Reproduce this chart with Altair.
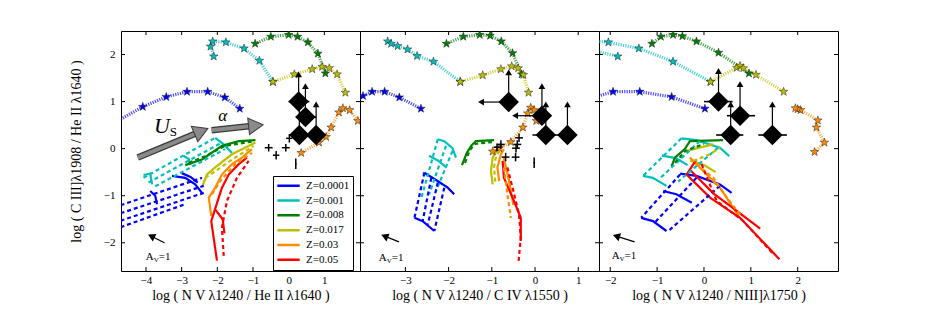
import altair as alt
import pandas as pd

FONT = "Liberation Serif"
Z_LABELS = ["Z=0.0001", "Z=0.001", "Z=0.008", "Z=0.017", "Z=0.03", "Z=0.05"]
Z_COLORS = ["#0000ff", "#00bfbf", "#008000", "#bfbf00", "#ff8c00", "#ff0000"]
Y_TICKS = [-2, -1, 0, 1, 2]
Y_DOMAIN = [-2.6, 2.5]
Y_TITLE = "log ( C III]λ1908 / He II λ1640 )"

P1_X_DOMAIN = [-4.7, 2.0]
P1_X_TICKS = [-4, -3, -2, -1, 0, 1]
P1_X_TITLE = "log ( N V λ1240 / He II λ1640 )"
P2_X_DOMAIN = [-4.05, 1.48]
P2_X_TICKS = [-3, -2, -1, 0, 1]
P2_X_TITLE = "log ( N V λ1240 / C IV λ1550 )"
P3_X_DOMAIN = [-2.24, 2.86]
P3_X_TICKS = [-2, -1, 0, 1, 2]
P3_X_TITLE = "log ( N V λ1240 / NIII]λ1750 )"

# ---- dotted star tracks: (Z, x values, y values)
P1_TRACKS = [
    ("Z=0.0001", [-5.0, -4.09, -3.43, -2.85, -2.27, -1.79, -1.37], [0.50, 0.89, 1.10, 1.21, 1.21, 1.09, 0.85]),
    ("Z=0.001", [-2.10, -2.19, -2.13, -1.76, -1.25, -0.82, -0.44], [1.96, 2.17, 2.28, 2.26, 2.13, 1.87, 1.42]),
    ("Z=0.008", [-0.94, -0.50, 0.0, 0.25, 0.54, 0.82, 1.03], [2.23, 2.38, 2.42, 2.38, 2.26, 2.02, 1.60]),
    ("Z=0.017", [-0.44, 0.16, 0.66, 0.94, 1.14, 1.36, 1.59], [1.42, 1.58, 1.69, 1.74, 1.71, 1.58, 1.19]),
    ("Z=0.03", [0.35, 0.85, 1.05, 1.19, 1.41, 1.52, 1.71, 1.94], [-0.09, 0.13, 0.25, 0.45, 0.77, 0.86, 0.82, 0.59]),
]
P2_TRACKS = [
    ("Z=0.0001", [-4.3, -3.98, -3.77, -3.48, -3.14, -2.64], [0.95, 1.12, 1.21, 1.21, 1.09, 0.85]),
    ("Z=0.001", [-3.41, -3.33, -3.18, -2.95, -2.73, -2.35, -1.73], [2.28, 2.23, 2.18, 2.11, 1.97, 1.85, 1.42]),
    ("Z=0.008", [-2.05, -1.66, -1.28, -1.04, -0.78, -0.52, -0.31], [2.23, 2.38, 2.42, 2.40, 2.28, 2.03, 1.58]),
    ("Z=0.017", [-1.73, -1.21, -0.79, -0.54, -0.39, -0.27, -0.15], [1.42, 1.56, 1.69, 1.75, 1.71, 1.57, 1.19]),
    ("Z=0.03", [-0.98, -0.83, -0.56, -0.28, -0.17, -0.10, -0.02, 0.03], [-0.06, 0.01, 0.14, 0.45, 0.75, 0.87, 0.82, 0.59]),
]
P3_TRACKS = [
    ("Z=0.0001", [-2.5, -1.94, -1.37, -0.69, 0.02], [1.05, 1.21, 1.21, 1.10, 0.85]),
    ("Z=0.001", [-1.84, -2.5, -2.5, -2.04, -1.39, -0.66, 0.14], [1.96, 2.12, 2.30, 2.26, 2.13, 1.85, 1.42]),
    ("Z=0.008", [-1.11, -0.92, -0.66, -0.46, -0.16, 0.31, 0.96], [2.23, 2.38, 2.42, 2.39, 2.28, 2.04, 1.60]),
    ("Z=0.017", [0.14, 0.70, 0.77, 0.84, 1.11, 1.70], [1.42, 1.72, 1.76, 1.71, 1.57, 1.21]),
    ("Z=0.03", [2.36, 2.57, 2.40, 2.43, 2.06, 2.00, 1.95], [-0.07, 0.13, 0.45, 0.60, 0.82, 0.84, 0.86]),
]

# ---- model grids: (Z, polyline points)
P1_SOLID = [
    ("Z=0.0001", [(-3.27, -0.58), (-2.90, -0.62), (-2.62, -0.76), (-2.43, -0.94)]),
    ("Z=0.0001", [(-3.00, -0.52), (-2.75, -0.60), (-2.55, -0.72)]),
    ("Z=0.0001", [(-3.88, -0.90), (-3.74, -1.00), (-3.69, -1.18)]),
    ("Z=0.001", [(-4.07, -0.56), (-3.88, -0.53), (-3.83, -0.76)]),
    ("Z=0.001", [(-2.06, 0.23), (-1.82, 0.09), (-1.59, -0.09)]),
    ("Z=0.001", [(-2.95, -0.15), (-2.80, -0.22), (-2.75, -0.35)]),
    ("Z=0.008", [(-2.90, -0.35), (-2.43, -0.23), (-1.87, 0.06), (-1.40, 0.16), (-0.93, 0.18)]),
    ("Z=0.017", [(-2.43, -0.82), (-2.29, -0.55), (-2.06, -0.40), (-1.59, -0.12), (-0.93, 0.13)]),
    ("Z=0.03", [(-2.17, -1.43), (-2.24, -1.04), (-2.06, -0.83), (-1.87, -0.55), (-1.59, -0.33), (-1.31, -0.19), (-1.03, -0.01)]),
    ("Z=0.05", [(-2.01, -2.38), (-2.17, -1.54), (-1.96, -1.04), (-1.87, -0.83), (-1.68, -0.55), (-1.40, -0.33), (-1.17, -0.19)]),
    ("Z=0.05", [(-2.05, -1.30), (-1.85, -1.50), (-1.80, -1.80)]),
]
P1_DASHED = [
    ("Z=0.0001", [(-4.9, -1.25), (-2.43, -0.62)]),
    ("Z=0.0001", [(-4.9, -1.42), (-2.38, -0.79)]),
    ("Z=0.0001", [(-4.9, -1.58), (-2.38, -0.94)]),
    ("Z=0.0001", [(-4.9, -1.72), (-2.90, -1.18)]),
    ("Z=0.001", [(-4.07, -0.62), (-2.06, 0.23)]),
    ("Z=0.001", [(-3.93, -0.72), (-1.92, 0.11)]),
    ("Z=0.001", [(-3.74, -0.80), (-1.78, -0.01)]),
    ("Z=0.008", [(-2.80, -0.30), (-2.34, -0.16), (-1.78, 0.06), (-1.03, 0.15)]),
    ("Z=0.017", [(-2.34, -0.62), (-2.06, -0.48), (-1.50, -0.19), (-0.98, 0.06)]),
    ("Z=0.03", [(-2.15, -0.97), (-1.92, -0.69), (-1.50, -0.33), (-1.03, -0.09)]),
    ("Z=0.05", [(-1.82, -2.28), (-1.87, -1.68), (-1.73, -1.11), (-1.45, -0.62), (-1.12, -0.26)]),
]
P2_SOLID = [
    ("Z=0.001", [(-2.25, 0.20), (-2.10, 0.16), (-1.91, 0.01), (-1.83, -0.19)]),
    ("Z=0.001", [(-2.60, -0.51), (-2.37, -0.62), (-2.14, -0.76)]),
    ("Z=0.001", [(-2.45, -0.15), (-2.25, -0.25), (-2.05, -0.40)]),
    ("Z=0.0001", [(-2.56, -0.51), (-2.25, -0.69), (-2.02, -0.83), (-1.87, -0.97)]),
    ("Z=0.0001", [(-2.79, -1.47), (-2.60, -1.54), (-2.33, -1.75)]),
    ("Z=0.008", [(-1.69, -0.35), (-1.58, -0.09), (-1.48, 0.06), (-1.37, 0.16), (-0.95, 0.18)]),
    ("Z=0.017", [(-0.98, -0.76), (-1.02, -0.48), (-0.98, -0.19), (-0.87, -0.01), (-0.75, 0.06)]),
    ("Z=0.03", [(-0.83, -0.69), (-0.87, -0.40), (-0.79, -0.12), (-0.72, -0.01)]),
    ("Z=0.03", [(-0.72, -0.20), (-0.60, -0.70), (-0.50, -1.20)]),
    ("Z=0.05", [(-0.75, -0.26), (-0.72, -0.62), (-0.52, -1.04), (-0.33, -1.47), (-0.33, -1.96)]),
]
P2_DASHED = [
    ("Z=0.001", [(-2.25, 0.20), (-2.64, -1.08)]),
    ("Z=0.001", [(-2.06, 0.06), (-2.45, -0.97)]),
    ("Z=0.001", [(-1.91, -0.05), (-2.29, -0.90)]),
    ("Z=0.0001", [(-2.56, -0.51), (-2.79, -1.47)]),
    ("Z=0.0001", [(-2.40, -0.62), (-2.60, -1.54)]),
    ("Z=0.0001", [(-2.25, -0.72), (-2.48, -1.61)]),
    ("Z=0.0001", [(-2.10, -0.83), (-2.33, -1.75)]),
    ("Z=0.008", [(-1.62, -0.30), (-1.52, -0.05), (-1.40, 0.10), (-1.00, 0.14)]),
    ("Z=0.017", [(-0.92, -0.70), (-0.95, -0.40), (-0.90, -0.15), (-0.78, 0.00)]),
    ("Z=0.03", [(-0.72, -0.40), (-0.64, -0.97), (-0.56, -1.47)]),
    ("Z=0.05", [(-0.64, -0.40), (-0.52, -0.83), (-0.37, -1.40), (-0.33, -1.89), (-0.38, -2.39)]),
]
P3_SOLID = [
    ("Z=0.001", [(-0.48, 0.22), (-0.16, 0.18), (0.34, 0.02), (0.54, -0.16)]),
    ("Z=0.001", [(-1.30, -0.58), (-1.09, -0.62), (-0.80, -0.79)]),
    ("Z=0.001", [(-0.90, -0.15), (-0.60, -0.20), (-0.35, -0.35)]),
    ("Z=0.0001", [(-0.51, -0.53), (-0.16, -0.58), (0.34, -0.76), (0.59, -0.94)]),
    ("Z=0.0001", [(-1.34, -1.47), (-1.09, -1.54), (-0.80, -1.75)]),
    ("Z=0.0001", [(-0.87, -0.90), (-0.59, -0.97), (-0.26, -1.15)]),
    ("Z=0.008", [(-0.69, -0.37), (-0.62, -0.19), (-0.41, -0.01), (-0.30, 0.16), (0.41, 0.18)]),
    ("Z=0.017", [(-0.37, -0.05), (-0.23, -0.01), (0.20, 0.09)]),
    ("Z=0.017", [(-0.30, -0.25), (0.00, -0.35), (0.25, -0.50)]),
    ("Z=0.03", [(-0.30, -0.19), (-0.01, -0.48), (0.34, -0.83), (0.74, -1.43)]),
    ("Z=0.05", [(-0.16, -0.23), (-0.37, -0.55), (0.13, -1.04), (0.77, -1.47), (1.61, -2.35)]),
    ("Z=0.05", [(-0.30, -0.45), (0.20, -0.95), (0.60, -1.25), (1.20, -1.70)]),
]
P3_DASHED = [
    ("Z=0.001", [(-0.48, 0.22), (-1.30, -0.58)]),
    ("Z=0.001", [(-0.09, 0.16), (-0.96, -0.65)]),
    ("Z=0.001", [(0.30, 0.02), (-0.55, -0.70)]),
    ("Z=0.0001", [(-0.51, -0.55), (-1.34, -1.47)]),
    ("Z=0.0001", [(-0.16, -0.62), (-1.05, -1.57)]),
    ("Z=0.0001", [(0.34, -0.79), (-0.76, -1.75)]),
    ("Z=0.008", [(-0.62, -0.30), (-0.40, -0.05), (0.00, 0.10)]),
    ("Z=0.017", [(-0.23, -0.26), (0.13, -0.12), (0.34, 0.02)]),
    ("Z=0.03", [(-0.16, -0.33), (0.20, -0.62), (0.49, -1.04), (0.77, -1.40)]),
    ("Z=0.05", [(-0.05, -0.33), (0.27, -1.11), (0.84, -1.54), (1.49, -2.25)]),
]

# ---- observed objects
P1_DIAMOND_X = [0.28, 0.47, 0.30, 0.77]
P1_DIAMOND_Y = [1.00, 0.67, 0.29, 0.29]
P1_BARS = [(0.00, 0.58, 1.00), (0.20, 0.77, 0.67), (0.05, 0.96, 0.29)]
P1_UP = [(0.28, 1.00, 1.58), (0.47, 0.67, 1.33), (0.30, 0.29, 1.00), (0.77, 0.29, 0.94)]
P1_LEFT = []
P1_CROSS_X = [-0.56, -0.35, -0.08, 0.02, 0.20]
P1_CROSS_Y = [0.02, -0.14, 0.02, 0.22, -0.32]
P1_CROSS_XERR = [0.11, 0.09, 0.11, 0.09, 0.02]
P1_CROSS_YERR = [0.08, 0.09, 0.08, 0.09, 0.11]

P2_DIAMOND_X = [-0.61, 0.16, 0.25, 0.75]
P2_DIAMOND_Y = [0.99, 0.70, 0.29, 0.29]
P2_BARS = [(-0.06, 0.75, 0.29)]
P2_UP = [(-0.61, 0.99, 1.62), (0.16, 0.70, 1.33), (0.25, 0.29, 0.94), (0.75, 0.29, 0.94)]
P2_LEFT = [(-0.61, -1.25, 0.99), (0.16, -0.46, 0.70)]
P2_CROSS_X = [-0.79, -0.88, -0.37, -0.41, -0.44, -0.68, -0.45, -0.02]
P2_CROSS_Y = [0.09, 0.03, 0.23, 0.09, 0.01, -0.18, -0.18, -0.30]
P2_CROSS_XERR = [0.09, 0.08, 0.09, 0.09, 0.09, 0.09, 0.09, 0.02]
P2_CROSS_YERR = [0.09, 0.08, 0.09, 0.09, 0.09, 0.09, 0.09, 0.11]

P3_DIAMOND_X = [0.31, 0.77, 0.57, 1.46]
P3_DIAMOND_Y = [1.00, 0.70, 0.29, 0.29]
P3_BARS = [(0.00, 0.61, 1.00), (0.49, 1.09, 0.70), (0.26, 0.84, 0.29), (1.16, 1.77, 0.29)]
P3_UP = [(0.31, 1.00, 1.65), (0.77, 0.70, 1.37), (0.57, 0.29, 0.94), (1.46, 0.29, 0.94)]
P3_LEFT = []
P3_CROSS_X = []
P3_CROSS_Y = []
P3_CROSS_XERR = []
P3_CROSS_YERR = []

# ---- reddening vector A_V = 1: (x0, y0, x1, y1, head angle, label x, label y)
P1_AV = (-3.48, -2.00, -3.85, -1.86, 206, -3.78, -2.30)
P2_AV = (-3.15, -1.98, -3.48, -1.86, 202, -3.43, -2.33)
P3_AV = (-1.48, -1.98, -1.87, -1.86, 197, -1.80, -2.28)

# ---- grey parameter arrows in panel 1: (x0, y0, x1, y1, head angle)
P1_PARAM_ARROWS = [(-4.23, -0.19, -2.45, 0.37, 337), (-2.16, 0.39, -0.92, 0.49, 354)]
P1_US_LABEL = (-3.33, 0.48)
P1_ALPHA_LABEL = (-1.85, 0.70)

STAR_PATH = ("M0,-1L0.235,-0.324L0.951,-0.309L0.38,0.124L0.588,0.809L0,0.4"
             "L-0.588,0.809L-0.38,0.124L-0.951,-0.309L-0.235,-0.324Z")

W = 239
H = 240


def track_df(tracks):
    rows = []
    for z, xs, ys in tracks:
        for i, (x, y) in enumerate(zip(xs, ys)):
            rows.append({"z": z, "i": i, "x": x, "y": y})
    return pd.DataFrame(rows)


def poly_df(polys):
    rows = []
    for k, (z, pts) in enumerate(polys):
        for i, (x, y) in enumerate(pts):
            rows.append({"z": z, "seg": k, "i": i, "x": x, "y": y})
    return pd.DataFrame(rows)


def panel(xdom, xticks, xtitle, tracks, solid, dashed, dx, dy, bars, up, left,
          cx, cy, cxe, cye, av, first):
    xs = alt.Scale(domain=xdom, nice=False, zero=False)
    ys = alt.Scale(domain=Y_DOMAIN, nice=False, zero=False)
    xaxis = alt.Axis(values=xticks, format="d", ticks=False, domain=False, grid=False,
                     labelFont=FONT, labelFontSize=11, labelPadding=3,
                     title=xtitle, titleFont=FONT, titleFontSize=14,
                     titleFontWeight="normal", titlePadding=3)
    if first:
        yaxis = alt.Axis(values=Y_TICKS, format="d", ticks=False, domain=False, grid=False,
                         labelFont=FONT, labelFontSize=11, labelPadding=6,
                         title=Y_TITLE, titleFont=FONT, titleFontSize=14,
                         titleFontWeight="normal", titlePadding=20)
    else:
        yaxis = None

    def X(f="x"):
        return alt.X(f"{f}:Q", scale=xs, axis=xaxis)

    def Y(f="y"):
        return alt.Y(f"{f}:Q", scale=ys, axis=yaxis)

    zscale = alt.Scale(domain=Z_LABELS, range=Z_COLORS)
    layers = []

    # inward ticks (matplotlib style)
    ytk = pd.DataFrame({"v": Y_TICKS})
    xtk = pd.DataFrame({"v": xticks})
    layers.append(alt.Chart(ytk).mark_rule(color="black", strokeWidth=1).encode(
        y=Y("v"), x=alt.value(0), x2=alt.value(4)))
    layers.append(alt.Chart(ytk).mark_rule(color="black", strokeWidth=1).encode(
        y=Y("v"), x=alt.value(W - 4), x2=alt.value(W)))
    layers.append(alt.Chart(xtk).mark_rule(color="black", strokeWidth=1).encode(
        x=X("v"), y=alt.value(H - 4), y2=alt.value(H)))
    layers.append(alt.Chart(xtk).mark_rule(color="black", strokeWidth=1).encode(
        x=X("v"), y=alt.value(0), y2=alt.value(4)))

    # model grids
    sdf = poly_df(solid)
    ddf = poly_df(dashed)
    leg = None
    if first:
        leg = alt.Legend(orient="none", legendX=152, legendY=145, title=None,
                         symbolType="stroke", symbolSize=500, symbolStrokeWidth=2.5,
                         clipHeight=13.5, rowPadding=0.8, labelFont=FONT, labelFontSize=11,
                         labelOffset=5, padding=3, strokeColor="black", fillColor="white",
                         cornerRadius=0, labelColor="black")
    layers.append(alt.Chart(sdf).mark_line(strokeWidth=2.2, clip=True).encode(
        x=X(), y=Y(), color=alt.Color("z:N", scale=zscale, legend=leg),
        detail="seg:N", order="i:Q"))
    layers.append(alt.Chart(ddf).mark_line(strokeWidth=2.2, strokeDash=[4, 3], clip=True).encode(
        x=X(), y=Y(), color=alt.Color("z:N", scale=zscale, legend=None),
        detail="seg:N", order="i:Q"))

    # star tracks
    tdf = track_df(tracks)
    layers.append(alt.Chart(tdf).mark_line(strokeWidth=3.2, strokeDash=[1.2, 1.2],
                                           opacity=0.7, clip=True).encode(
        x=X(), y=Y(), stroke=alt.Stroke("z:N", scale=zscale, legend=None), order="i:Q"))
    layers.append(alt.Chart(tdf).mark_point(shape=STAR_PATH, filled=True, size=80,
                                            stroke="#222222", strokeWidth=0.5,
                                            opacity=1, clip=True).encode(
        x=X(), y=Y(), fill=alt.Fill("z:N", scale=zscale, legend=None)))

    # observed objects
    if bars:
        bdf = pd.DataFrame(bars, columns=["xlo", "xhi", "y"])
        layers.append(alt.Chart(bdf).mark_rule(color="black", strokeWidth=1.6).encode(
            x=X("xlo"), x2="xhi:Q", y=Y()))
    if up:
        udf = pd.DataFrame(up, columns=["x", "y0", "y1"])
        layers.append(alt.Chart(udf).mark_rule(color="black", strokeWidth=1.2).encode(
            x=X(), y=Y("y0"), y2="y1:Q"))
        layers.append(alt.Chart(udf).mark_point(shape="triangle-up", filled=True, size=45,
                                                color="black", opacity=1).encode(
            x=X(), y=Y("y1")))
    if left:
        ldf = pd.DataFrame(left, columns=["x0", "x1", "y"])
        layers.append(alt.Chart(ldf).mark_rule(color="black", strokeWidth=1.2).encode(
            x=X("x0"), x2="x1:Q", y=Y()))
        layers.append(alt.Chart(ldf).mark_point(shape="triangle-left", filled=True, size=45,
                                                color="black", opacity=1).encode(
            x=X("x1"), y=Y()))
    ddia = pd.DataFrame({"x": dx, "y": dy})
    layers.append(alt.Chart(ddia).mark_point(shape="diamond", filled=True, size=420,
                                             color="black", opacity=1).encode(x=X(), y=Y()))
    if cx:
        cdf = pd.DataFrame({"x": cx, "y": cy, "xe": cxe, "ye": cye})
        cdf["xlo"] = cdf["x"] - cdf["xe"]
        cdf["xhi"] = cdf["x"] + cdf["xe"]
        cdf["ylo"] = cdf["y"] - cdf["ye"]
        cdf["yhi"] = cdf["y"] + cdf["ye"]
        layers.append(alt.Chart(cdf).mark_rule(color="black", strokeWidth=1.5).encode(
            x=X("xlo"), x2="xhi:Q", y=Y()))
        layers.append(alt.Chart(cdf).mark_rule(color="black", strokeWidth=1.5).encode(
            x=X(), y=Y("ylo"), y2="yhi:Q"))

    # A_V = 1 reddening arrow
    adf = pd.DataFrame([av], columns=["x0", "y0", "x1", "y1", "ang", "lx", "ly"])
    layers.append(alt.Chart(adf).mark_rule(color="black", strokeWidth=1.2).encode(
        x=X("x0"), y=Y("y0"), x2="x1:Q", y2="y1:Q"))
    layers.append(alt.Chart(adf).mark_point(shape="triangle-right", filled=True, size=70,
                                            color="black", opacity=1).encode(
        x=X("x1"), y=Y("y1"), angle=alt.Angle("ang:Q", scale=None)))
    layers.append(alt.Chart(adf).mark_text(text="A", font=FONT, fontSize=11, align="right",
                                           baseline="middle", color="black").encode(
        x=X("lx"), y=Y("ly")))
    layers.append(alt.Chart(adf).mark_text(text="V", font=FONT, fontSize=7, align="left",
                                           baseline="middle", dy=3, color="black").encode(
        x=X("lx"), y=Y("ly")))
    layers.append(alt.Chart(adf).mark_text(text="=1", font=FONT, fontSize=11, align="left",
                                           baseline="middle", dx=5, color="black").encode(
        x=X("lx"), y=Y("ly")))

    if first:
        gdf = pd.DataFrame(P1_PARAM_ARROWS, columns=["x0", "y0", "x1", "y1", "ang"])
        layers.append(alt.Chart(gdf).mark_rule(color="#3a3a3a", strokeWidth=6.5).encode(
            x=X("x0"), y=Y("y0"), x2="x1:Q", y2="y1:Q"))
        layers.append(alt.Chart(gdf).mark_rule(color="#8a8a8a", strokeWidth=4).encode(
            x=X("x0"), y=Y("y0"), x2="x1:Q", y2="y1:Q"))
        layers.append(alt.Chart(gdf).mark_point(shape="triangle-right", filled=True, size=280,
                                                fill="#8a8a8a", stroke="#3a3a3a",
                                                strokeWidth=1, opacity=1).encode(
            x=X("x1"), y=Y("y1"), angle=alt.Angle("ang:Q", scale=None)))
        ldf2 = pd.DataFrame([{"x": P1_US_LABEL[0], "y": P1_US_LABEL[1],
                              "ax": P1_ALPHA_LABEL[0], "ay": P1_ALPHA_LABEL[1]}])
        layers.append(alt.Chart(ldf2).mark_text(text="U", font=FONT, fontSize=22,
                                                fontStyle="italic", align="right",
                                                baseline="middle", color="black").encode(
            x=X(), y=Y()))
        layers.append(alt.Chart(ldf2).mark_text(text="S", font=FONT, fontSize=13,
                                                align="left", baseline="middle", dy=6,
                                                color="black").encode(x=X(), y=Y()))
        layers.append(alt.Chart(ldf2).mark_text(text="α", font=FONT, fontSize=17,
                                                fontStyle="italic", align="center",
                                                baseline="middle", color="black").encode(
            x=X("ax"), y=Y("ay")))

    return alt.layer(*layers).properties(width=W, height=H)


p1 = panel(P1_X_DOMAIN, P1_X_TICKS, P1_X_TITLE, P1_TRACKS, P1_SOLID, P1_DASHED,
           P1_DIAMOND_X, P1_DIAMOND_Y, P1_BARS, P1_UP, P1_LEFT,
           P1_CROSS_X, P1_CROSS_Y, P1_CROSS_XERR, P1_CROSS_YERR, P1_AV, True)
p2 = panel(P2_X_DOMAIN, P2_X_TICKS, P2_X_TITLE, P2_TRACKS, P2_SOLID, P2_DASHED,
           P2_DIAMOND_X, P2_DIAMOND_Y, P2_BARS, P2_UP, P2_LEFT,
           P2_CROSS_X, P2_CROSS_Y, P2_CROSS_XERR, P2_CROSS_YERR, P2_AV, False)
p3 = panel(P3_X_DOMAIN, P3_X_TICKS, P3_X_TITLE, P3_TRACKS, P3_SOLID, P3_DASHED,
           P3_DIAMOND_X, P3_DIAMOND_Y, P3_BARS, P3_UP, P3_LEFT,
           P3_CROSS_X, P3_CROSS_Y, P3_CROSS_XERR, P3_CROSS_YERR, P3_AV, False)

chart = alt.hconcat(p1, p2, p3, spacing=0, bounds="flush").resolve_scale(
    x="independent", y="independent", color="independent",
    stroke="independent", fill="independent"
).resolve_legend(color="independent").properties(
    padding={"left": 60, "top": 22, "right": 5, "bottom": 0}
).configure_view(stroke="black", strokeWidth=1).configure_axis(
    labelColor="black", titleColor="black"
)

chart.save("out.html", embed_options={"renderer": "svg", "actions": False})
